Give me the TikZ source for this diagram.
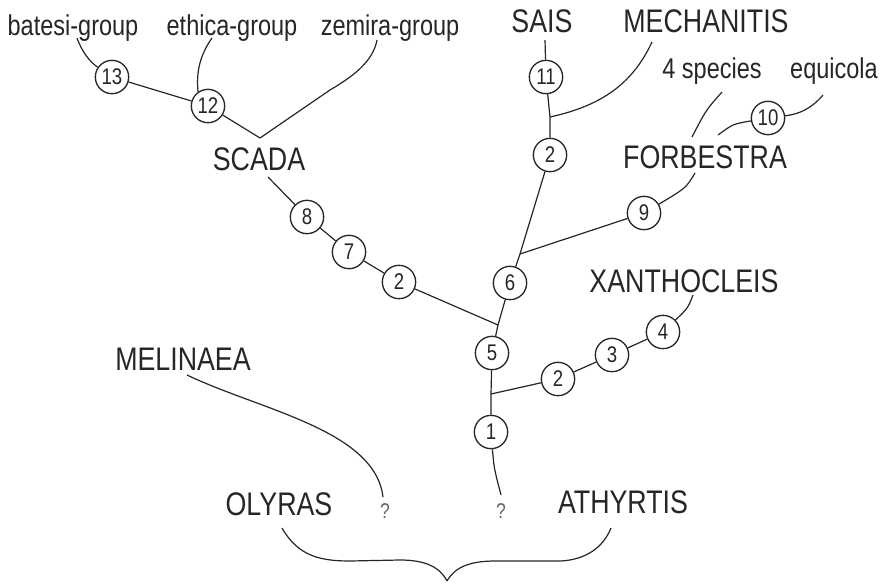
\documentclass[tikz,border=0pt]{standalone}
\usepackage{fontspec}
\setmainfont[FakeStretch=0.82]{Liberation Sans}
\tikzset{
  lbl/.style={anchor=base, inner sep=0pt, text=black!85, font=\fontsize{21.5}{24}\selectfont},
  capl/.style={anchor=base, inner sep=0pt, text=black!85, font=\fontsize{24.5}{28}\selectfont},
  qm/.style={anchor=base, inner sep=0pt, text=black!60, font=\fontsize{16}{18}\selectfont},
  num/.style={circle, draw=black!85, line width=1pt, minimum size=25pt, inner sep=0pt, text=black!85, font=\fontsize{17}{18}\selectfont},
  ln/.style={draw=black!85, line width=0.9pt},
}
\begin{document}
\begin{tikzpicture}[x=0.75pt,y=-0.75pt]
\useasboundingbox (0,0) rectangle (883,583);
% text labels
\node[lbl] (batesi) at (73,35) {batesi-group};
\node[lbl] (ethica) at (232,35) {ethica-group};
\node[lbl] (zemira) at (390,35) {zemira-group};
\node[capl] (sais) at (542,32) {SAIS};
\node[capl] (mech) at (706,32) {MECHANITIS};
\node[lbl] (spec) at (712,78) {4 species};
\node[lbl] (equi) at (834,78) {equicola};
\node[capl] (forb) at (705,168) {FORBESTRA};
\node[capl] (scada) at (259,170) {SCADA};
\node[capl] (xan) at (684,292) {XANTHOCLEIS};
\node[capl] (mel) at (183,370) {MELINAEA};
\node[capl] (oly) at (279,515) {OLYRAS};
\node[capl] (ath) at (623,513) {ATHYRTIS};
\node[qm] (q1) at (385,518) {?};
\node[qm] (q2) at (501,518) {?};
% circles
\node[num] (c13) at (112,77) {13};
\node[num] (c12) at (208,106) {12};
\node[num] (c8) at (307,217) {8};
\node[num] (c7) at (349,252) {7};
\node[num] (c2a) at (399,282) {2};
\node[num] (c6) at (510,283) {6};
\node[num] (c5) at (492,353) {5};
\node[num] (c1) at (491,432) {1};
\node[num] (c11) at (546,77) {11};
\node[num] (c2b) at (550,155) {2};
\node[num] (c9) at (644,213) {9};
\node[num] (c10) at (768,118) {10};
\node[num] (c2c) at (558,379) {2};
\node[num] (c3) at (612,355) {3};
\node[num] (c4) at (663,332) {4};
% junctions and free ends
\coordinate (jM) at (550,117);
\coordinate (j69) at (520,254);
\coordinate (j5) at (498,325);
\coordinate (j1) at (491,394);
\coordinate (eBat) at (77,38);
\coordinate (eEth) at (212,38);
\coordinate (eZem) at (377,40);
\coordinate (eScT) at (260,138);
\coordinate (eScB) at (268,177);
\coordinate (eSais) at (545,40);
\coordinate (eMech) at (652,42);
\coordinate (eSpec) at (722,92);
\coordinate (eEqui) at (823,95);
\coordinate (eForT1) at (692,137);
\coordinate (eForT2) at (718,135);
\coordinate (eForB) at (695,173);
\coordinate (eXan) at (693,295);
\coordinate (eMel) at (187,375);
\coordinate (eQ1) at (383,497);
\coordinate (eQ2) at (501,495);
\coordinate (bL) at (282,528);
\coordinate (bTip) at (447,581);
\coordinate (bR) at (611,528);
% connectors
\draw[ln] (eBat) .. controls (82,52) and (90,62) .. (c13);
\draw[ln] (c13) -- (c12);
\draw[ln] (eEth) .. controls (200,55) and (196,72) .. (c12.125);
\draw[ln] (c12) -- (eScT);
\draw[ln] (eZem) .. controls (373,62) and (352,77) .. (330,90) -- (eScT);
\draw[ln] (eScB) -- (c8);
\draw[ln] (c8) -- (c7);
\draw[ln] (c7) -- (c2a);
\draw[ln] (c2a) -- (j5);
\draw[ln] (eSais) -- (c11);
\draw[ln] (c11) -- (jM) -- (c2b);
\draw[ln] (eMech) .. controls (632,85) and (600,106) .. (jM);
\draw[ln] (c2b) -- (j69) -- (c6);
\draw[ln] (c9) -- (j69);
\draw[ln] (eForB) .. controls (686,188) .. (c9);
\draw[ln] (eSpec) .. controls (706,110) .. (eForT1);
\draw[ln] (eEqui) .. controls (812,108) and (800,114) .. (c10);
\draw[ln] (c10) .. controls (733,124) .. (eForT2);
\draw[ln] (c6) -- (j5) -- (c5);
\draw[ln] (c5) -- (j1) -- (c1);
\draw[ln] (c2c) -- (j1);
\draw[ln] (c4) -- (c3);
\draw[ln] (c3) -- (c2c);
\draw[ln] (eXan) .. controls (688,308) .. (c4);
\draw[ln] (c1) .. controls (494,468) .. (eQ2);
\draw[ln] (eMel) .. controls (260,410) and (375,430) .. (eQ1);
\draw[ln] (bL) .. controls (298,556) and (320,561) .. (350,561) -- (400,560) .. controls (425,560) and (440,567) .. (bTip);
\draw[ln] (bTip) .. controls (455,567) and (470,561) .. (495,561) -- (560,561) .. controls (585,560) and (603,548) .. (bR);
\end{tikzpicture}
\end{document}
